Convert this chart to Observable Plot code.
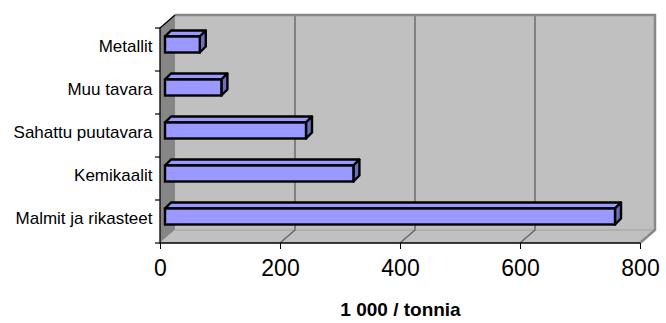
<!DOCTYPE html>
<html>
<head>
<meta charset="utf-8">
<script src="https://cdn.jsdelivr.net/npm/d3@7"></script>
<script src="https://cdn.jsdelivr.net/npm/@observablehq/plot@0.6"></script>
<style>
  html, body { margin: 0; padding: 0; background: #fff; }
  #chart svg { display: block; }
</style>
</head>
<body>
<div id="chart"></div>
<script>
// ---- data ----
const categories = ["Metallit", "Muu tavara", "Sahattu puutavara", "Kemikaalit", "Malmit ja rikasteet"];
const values = [58, 94, 235, 314, 750];
const xTicks = [0, 200, 400, 600, 800];
const xLabel = "1 000 / tonnia";

const rows = categories.map((c, i) => ({category: c, value: values[i]}));

// ---- 3D look constants ----
const DX = 15, DY = -13;   // wall depth offset
const BX = 5, BY = -5;     // bar front-face offset
const DB = 6;              // bar depth
const BH = 16;             // bar thickness

function chart3d(index, scales, channels, dim) {
  const x = scales.x, y = scales.y;
  const L = dim.marginLeft, R = dim.width - dim.marginRight;
  const T = dim.marginTop, B = dim.height - dim.marginBottom;
  const bw = (B - T) / categories.length;
  const g = d3.create("svg:g");
  const poly = (pts, fill, stroke, sw) => g.append("path")
    .attr("d", "M" + pts.map(p => p.join(",")).join("L") + "Z")
    .attr("fill", fill).attr("stroke", stroke || "none")
    .attr("stroke-width", sw || 1).attr("stroke-linejoin", "round");
  const line = (pts, stroke, sw) => g.append("path")
    .attr("d", "M" + pts.map(p => p.join(",")).join("L"))
    .attr("fill", "none").attr("stroke", stroke).attr("stroke-width", sw);

  // walls
  poly([[L + DX, T + DY], [R + DX, T + DY], [R + DX, B + DY], [L + DX, B + DY]], "#c0c0c0");
  poly([[L, T], [L + DX, T + DY], [L + DX, B + DY], [L, B]], "#868686");
  poly([[L, B], [L + DX, B + DY], [R + DX, B + DY], [R, B]], "#c0c0c0");
  line([[L + DX, B + DY], [R + DX, B + DY]], "#a0a0a0", 1);

  // gridlines
  for (const t of xTicks) {
    if (t === xTicks[0] || t === xTicks[xTicks.length - 1]) continue;
    const px = x(t);
    line([[px + DX, T + DY], [px + DX, B + DY], [px, B]], "#5f5f5f", 1.3);
  }
  // back wall border
  line([[L + DX, T + DY], [R + DX, T + DY], [R + DX, B + DY], [R, B]], "#888888", 2.5);

  // axis edges
  line([[L + DX, T + DY], [L, T], [L, B], [R, B]], "#000", 1.3);

  // y ticks at band boundaries
  for (let i = 0; i <= categories.length; i++) {
    const py = T + i * bw;
    line([[L - 5, py], [L, py]], "#000", 1.2);
  }

  // bar depth faces
  rows.forEach(d => {
    const top = y(d.category) + (bw - BH) / 2 + BY;
    const bot = top + BH;
    const xs = x(0) + BX, xe = x(d.value) + BX;
    poly([[xs, top], [xe, top], [xe + DB, top - DB], [xs + DB, top - DB]], "#9999ff", "#000", 2.4);
    poly([[xe, top], [xe + DB, top - DB], [xe + DB, bot - DB], [xe, bot]], "#6e6eba", "#000", 2.4);
  });
  return g.node();
}

const plot = Plot.plot({
  width: 666,
  height: 323,
  marginLeft: 160,
  marginRight: 26,
  marginTop: 28,
  marginBottom: 80,
  style: {fontFamily: "'Liberation Sans', Arial, sans-serif", background: "#fff", color: "#000", overflow: "visible"},
  x: {domain: [0, 800]},
  y: {domain: categories, padding: 0},
  marks: [
    chart3d,
    Plot.barX(rows, {
      x: "value", y: "category",
      fill: "#9999ff", stroke: "#000", strokeWidth: 2.4,
      insetTop: (43 - BH) / 2, insetBottom: (43 - BH) / 2,
      dx: BX, dy: BY
    }),
    Plot.axisX({ticks: xTicks, tickSize: 6, tickPadding: 10, fontSize: 23, label: null, tickFormat: d => String(d)}),
    Plot.axisY({tickSize: 0, tickPadding: 8, fontSize: 17, dy: -3, label: null}),
    Plot.text([xLabel], {frameAnchor: "bottom", dy: 72, fontSize: 19, fontWeight: "bold", fill: "#000"})
  ]
});
document.getElementById("chart").appendChild(plot);
</script>
</body>
</html>
